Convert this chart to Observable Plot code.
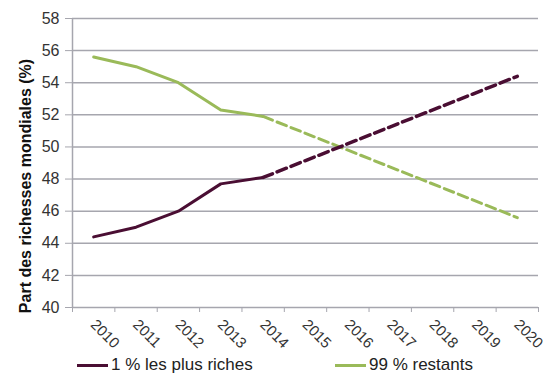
<!DOCTYPE html>
<html>
<head>
<meta charset="utf-8">
<script src="https://cdn.jsdelivr.net/npm/d3@7"></script>
<script src="https://cdn.jsdelivr.net/npm/@observablehq/plot@0.6"></script>
<style>
  html, body { margin: 0; padding: 0; background: #fff; }
  body { width: 555px; height: 374px; overflow: hidden; position: relative; font-family: "Liberation Sans", Arial, sans-serif; }
  #chart { position: absolute; left: 0; top: 0; }
  #legend { position: absolute; left: 0; top: 354px; width: 555px; height: 22px; font-size: 17px; color: #222; }
  .item { position: absolute; top: 0; display: flex; align-items: center; height: 22px; }
  .sw { width: 31px; height: 3px; margin-right: 3px; }
</style>
</head>
<body>
<div id="chart"></div>
<div id="legend"></div>
<script>
const years = [2010, 2011, 2012, 2013, 2014, 2015, 2016, 2017, 2018, 2019, 2020];
const observedYears = [2010, 2011, 2012, 2013, 2014];
const richest = [44.4, 45.0, 46.0, 47.7, 48.1];
const rest = [55.6, 55.0, 54.0, 52.3, 51.9];
const projYears = [2014, 2020];
const richestProj = [48.1, 54.4];
const restProj = [51.9, 45.6];
const yTicks = [40, 42, 44, 46, 48, 50, 52, 54, 56, 58];
const seriesNames = ["1 % les plus riches", "99 % restants"];
const colors = ["#4a0e33", "#9aba59"];
const yTitle = "Part des richesses mondiales (%)";

const obs = (vals) => observedYears.map((x, i) => ({x, y: vals[i]}));
const proj = (vals) => projYears.map((x, i) => ({x, y: vals[i]}));
const boundaries = years.map(y => y - 0.5).concat([years[years.length - 1] + 0.5]);

const font = '"Liberation Sans", Arial, sans-serif';
const gridColor = "#a6a6ae";

const chart = Plot.plot({
  width: 555,
  height: 374,
  marginLeft: 72,
  marginRight: 17,
  marginTop: 18,
  marginBottom: 67,
  style: {fontFamily: font, background: "transparent", overflow: "visible"},
  x: {domain: [2009.5, 2020.5], axis: null},
  y: {domain: [40, 58], axis: null},
  marks: [
    Plot.ruleY(yTicks.slice(1), {stroke: gridColor, strokeWidth: 1.5}),
    Plot.ruleY([40], {stroke: gridColor, strokeWidth: 1.5}),
    Plot.ruleX([2009.5], {stroke: gridColor, strokeWidth: 1.5}),
    Plot.axisY({ticks: yTicks, tickSize: 7, tickPadding: 6, fontSize: 16, stroke: gridColor, fill: "#333", label: null}),
    Plot.axisX({ticks: boundaries, tickSize: 5, tickFormat: () => "", stroke: gridColor, label: null}),
    Plot.text(years, {x: d => d, y: 40, text: d => String(d), rotate: 45, textAnchor: "start", lineAnchor: "bottom", dx: -4, dy: 18, fontSize: 15, fill: "#333"}),
    Plot.text([yTitle], {frameAnchor: "left", textAnchor: "middle", rotate: -90, dx: -47, dy: 23, fontSize: 16, fontWeight: "bold", fill: "#111"}),
    Plot.line(obs(rest), {x: "x", y: "y", stroke: colors[1], strokeWidth: 3}),
    Plot.line(proj(restProj), {x: "x", y: "y", stroke: colors[1], strokeWidth: 3, strokeDasharray: "10,5"}),
    Plot.line(obs(richest), {x: "x", y: "y", stroke: colors[0], strokeWidth: 3}),
    Plot.line(proj(richestProj), {x: "x", y: "y", stroke: colors[0], strokeWidth: 3.5, strokeDasharray: "10,5"})
  ]
});
document.getElementById("chart").appendChild(chart);

const legend = document.getElementById("legend");
const lefts = [77, 335];
seriesNames.forEach((name, i) => {
  const item = document.createElement("div");
  item.className = "item";
  item.style.left = lefts[i] + "px";
  const sw = document.createElement("div");
  sw.className = "sw";
  sw.style.background = colors[i];
  const t = document.createElement("span");
  t.textContent = name;
  item.appendChild(sw);
  item.appendChild(t);
  legend.appendChild(item);
});
</script>
</body>
</html>
